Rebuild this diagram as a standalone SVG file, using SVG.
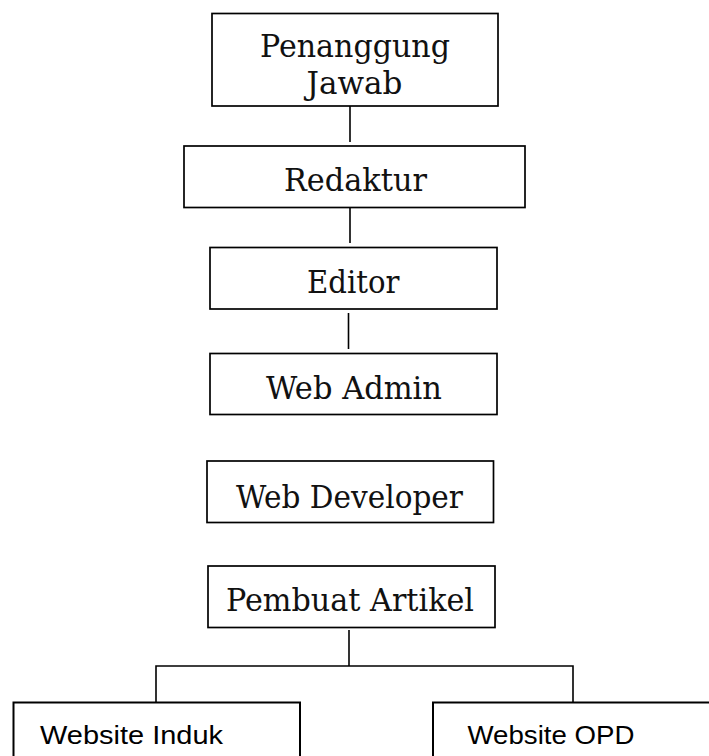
<svg xmlns="http://www.w3.org/2000/svg" width="709" height="756" viewBox="0 0 709 756">
<style>
.box{fill:#fff;stroke:#000;stroke-width:1.7}
.box2{fill:#fff;stroke:#000;stroke-width:2}
.t{font-family:"DejaVu Serif","Liberation Serif",serif;font-size:31.5px;fill:#111}
.s{font-family:"Liberation Sans","Open Sans",sans-serif;font-size:26.5px;fill:#000}
.c{fill:none;stroke:#000;stroke-width:1.6}
</style>
<rect width="709" height="756" fill="#fff"/>
<g id="connectors">
<line class="c" x1="350" y1="106" x2="350" y2="142"/>
<line class="c" x1="350" y1="208" x2="350" y2="243"/>
<line class="c" x1="348.5" y1="313" x2="348.5" y2="349"/>
<line class="c" x1="349" y1="630" x2="349" y2="666"/>
<polyline class="c" points="156,702 156,666 573,666 573,702"/>
</g>
<g id="penanggung-jawab">
<rect class="box" x="212" y="13.5" width="286" height="92.5"/>
<text class="t" x="260" y="57" style="font-size:32px" textLength="190" lengthAdjust="spacingAndGlyphs">Penanggung</text>
<text class="t" x="306.5" y="94" style="font-size:32px" textLength="96" lengthAdjust="spacingAndGlyphs">Jawab</text>
</g>
<g id="redaktur">
<rect class="box" x="184" y="146" width="341" height="61.5"/>
<text class="t" x="284" y="191" textLength="143" lengthAdjust="spacingAndGlyphs">Redaktur</text>
</g>
<g id="editor">
<rect class="box" x="210" y="247.5" width="287" height="61.5"/>
<text class="t" x="307" y="292.5" textLength="92.5" lengthAdjust="spacingAndGlyphs">Editor</text>
</g>
<g id="web-admin">
<rect class="box" x="210" y="353.5" width="287" height="61"/>
<text class="t" x="266" y="398.5" textLength="176" lengthAdjust="spacingAndGlyphs">Web Admin</text>
</g>
<g id="web-developer">
<rect class="box" x="207" y="461" width="286.5" height="61.5"/>
<text class="t" x="236" y="507.5" textLength="227" lengthAdjust="spacingAndGlyphs">Web Developer</text>
</g>
<g id="pembuat-artikel">
<rect class="box" x="208" y="566" width="287" height="61.5"/>
<text class="t" x="226" y="611" textLength="248" lengthAdjust="spacingAndGlyphs">Pembuat Artikel</text>
</g>
<g id="website-induk">
<rect class="box2" x="13.5" y="702.5" width="286.5" height="80"/>
<text class="s" x="40" y="744" textLength="183" lengthAdjust="spacingAndGlyphs">Website Induk</text>
</g>
<g id="website-opd">
<rect class="box2" x="433" y="702.5" width="300" height="80"/>
<text class="s" x="467.5" y="744" textLength="167" lengthAdjust="spacingAndGlyphs">Website OPD</text>
</g>
</svg>
